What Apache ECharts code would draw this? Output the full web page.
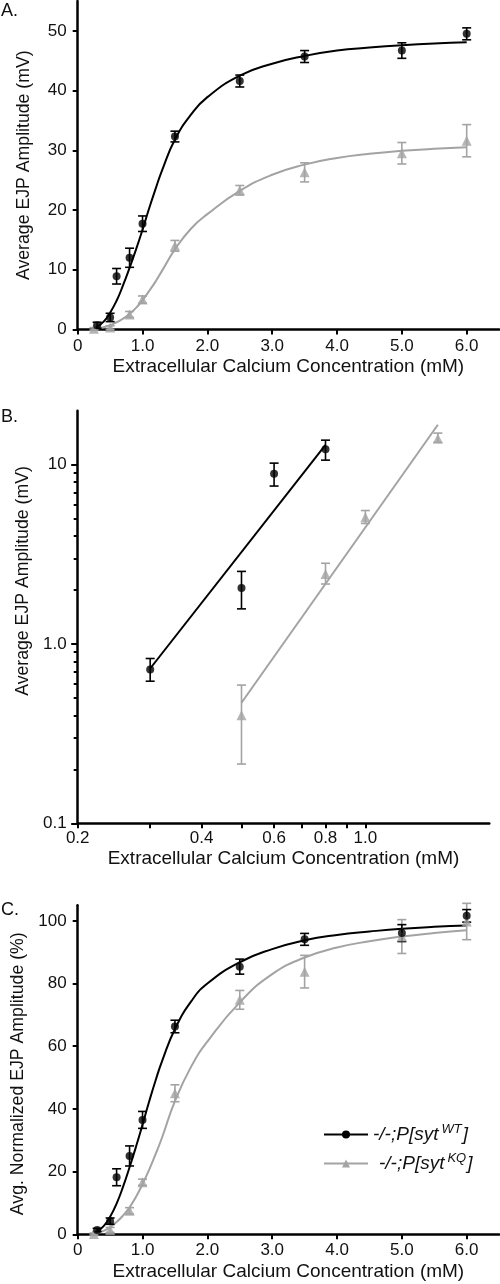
<!DOCTYPE html>
<html><head><meta charset="utf-8">
<script src="https://cdn.jsdelivr.net/npm/echarts@6/dist/echarts.min.js"></script>
<style>html,body{margin:0;padding:0;background:#fff}#c{width:500px;height:1284px}</style>
</head><body><div id="c"></div><script>
// ---------- Panel A: raw EJP amplitudes (mV) ----------
const wtConc = [0.3, 0.5, 0.6, 0.8, 1.0, 1.5, 2.5, 3.5, 5.0, 6.0];
const wtAmpA = [0.7, 2.0, 8.9, 12.0, 17.7, 32.3, 41.6, 45.7, 46.7, 49.5];
const wtErrA = [0.5, 0.7, 1.3, 1.6, 1.3, 0.9, 1.0, 1.0, 1.3, 1.0];
const kqConc = [0.25, 0.5, 0.8, 1.0, 1.5, 2.5, 3.5, 5.0, 6.0];
const kqAmpA = [0.1, 0.3, 2.5, 5.0, 14.0, 23.3, 26.3, 29.5, 31.6];
const kqErrA = [0.2, 0.3, 0.5, 0.6, 0.9, 0.8, 1.6, 1.8, 2.7];
// fitted curves
const wtFitXA = [0.27, 0.4, 0.5, 0.6, 0.7, 0.8, 0.9, 1.0, 1.1, 1.2, 1.3, 1.5, 1.75, 2.0, 2.5, 3.0, 3.5, 4.0, 4.5, 5.0, 5.5, 6.0];
const wtFitA  = [0.2, 1.3, 2.8, 4.8, 7.4, 10.3, 13.4, 16.7, 20.2, 23.5, 26.6, 31.8, 36.0, 38.9, 42.5, 44.5, 45.8, 46.7, 47.2, 47.6, 47.9, 48.1];
const kqFitXA = [0.25, 0.4, 0.5, 0.6, 0.7, 0.8, 0.9, 1.0, 1.1, 1.2, 1.3, 1.5, 1.75, 2.0, 2.5, 3.0, 3.5, 4.0, 4.5, 5.0, 5.5, 6.0];
const kqFitA  = [0.05, 0.35, 0.7, 1.2, 1.8, 2.6, 3.6, 4.9, 6.4, 8.0, 9.8, 13.4, 16.9, 19.3, 23.2, 25.9, 27.6, 28.7, 29.4, 29.9, 30.25, 30.5];

// ---------- Panel B: log-log ----------
const wtConcB  = [0.3, 0.5, 0.6, 0.8];
const wtAmpB   = [0.72, 2.05, 8.9, 12.2];
const wtLoB    = [0.62, 1.57, 7.6, 10.6];
const wtHiB    = [0.83, 2.54, 10.2, 13.7];
const kqConcB  = [0.5, 0.8, 1.0, 1.5];
const kqAmpB   = [0.40, 2.46, 5.09, 14.0];
const kqLoB    = [0.214, 2.16, 4.7, 13.3];
const kqHiB    = [0.59, 2.82, 5.55, 15.0];
const wtLineXB = [0.3, 0.8];
const wtLineYB = [0.73, 12.9];
const kqLineXB = [0.5, 1.5];
const kqLineYB = [0.47, 16.7];

// ---------- Panel C: normalized (%) ----------
const wtNormC = [1.4, 4.2, 18.2, 25.0, 36.5, 66.3, 85.4, 94.1, 96.1, 101.6];
const wtErrC  = [0.5, 1.0, 2.7, 3.2, 2.7, 2.0, 2.4, 1.9, 2.7, 2.0];
const kqNormC = [0.1, 1.4, 7.5, 16.6, 45.0, 74.8, 83.8, 95.0, 99.8];
const kqErrC  = [0.3, 0.8, 1.0, 1.0, 2.7, 3.0, 5.2, 5.4, 5.8];
const wtFitXC = [0.27, 0.4, 0.5, 0.6, 0.7, 0.8, 0.9, 1.0, 1.1, 1.2, 1.3, 1.5, 1.75, 2.0, 2.5, 3.0, 3.5, 4.0, 4.5, 5.0, 5.5, 6.0];
const wtFitC  = [0.4, 2.6, 5.6, 9.8, 15.2, 21.4, 28.0, 35.0, 42.2, 49.0, 55.2, 65.5, 74.3, 80.0, 86.8, 91.0, 93.8, 95.5, 96.6, 97.5, 98.1, 98.5];
const kqFitXC = [0.25, 0.4, 0.5, 0.6, 0.7, 0.8, 0.9, 1.0, 1.1, 1.2, 1.3, 1.5, 1.75, 2.0, 2.5, 3.0, 3.5, 4.0, 4.5, 5.0, 5.5, 6.0];
const kqFitC  = [0.1, 1.1, 2.3, 3.9, 6.0, 8.6, 12.0, 16.0, 20.5, 25.5, 30.8, 42.5, 53.5, 61.5, 74.0, 83.0, 88.3, 91.5, 93.5, 95.0, 96.1, 97.0];

// ---------- ticks / labels ----------
const xTicksLin = [0, 1, 2, 3, 4, 5, 6];
const yTicksA = [0, 10, 20, 30, 40, 50];
const yTicksC = [0, 20, 40, 60, 80, 100];
const xTicksB = [0.2, 0.3, 0.4, 0.5, 0.6, 0.7, 0.8, 0.9, 1.0];
const xLabelsB = [0.2, 0.4, 0.6, 0.8, 1.0];
const yTicksB = [0.1, 0.2, 0.3, 0.4, 0.5, 0.6, 0.7, 0.8, 0.9, 1, 2, 3, 4, 5, 6, 7, 8, 9, 10];
const yLabelsB = [0.1, 1, 10];
const xName = 'Extracellular Calcium Concentration (mM)';
const legendWT = 'WT';
const legendKQ = 'KQ';

const BLACK = '#000000';
const GREY = '#a3a3a3';
const FONT = 'Liberation Sans, Arial, sans-serif';
const tick = { fontFamily: FONT, fontSize: 17, color: '#111' };
const xnm = { fontFamily: FONT, fontSize: 19, color: '#111' };
const ynm = { fontFamily: FONT, fontSize: 17.7, color: '#111' };
const ttl = { fontFamily: FONT, fontSize: 18, color: '#111', fontWeight: 'normal' };
const zip = (xs, ys) => xs.map((x, i) => [x, ys[i]]);

function axisBase(extra) {
  return Object.assign({
    axisLine: { show: true, onZero: false, lineStyle: { color: BLACK, width: 2.5 } },
    splitLine: { show: false }
  }, extra);
}
function errSeries(xi, xs, lo, hi, color) {
  return {
    type: 'custom', xAxisIndex: xi, yAxisIndex: xi, silent: true, z: 3,
    data: xs.map((x, i) => [x, lo[i], hi[i]]),
    encode: { x: 0, y: [1, 2] },
    renderItem: (params, api) => {
      const x = api.value(0);
      const a = api.coord([x, api.value(1)]);
      const b = api.coord([x, api.value(2)]);
      const h = 4.5, st = { stroke: color, lineWidth: 1.6 };
      return { type: 'group', children: [
        { type: 'line', shape: { x1: a[0], y1: a[1], x2: b[0], y2: b[1] }, style: st },
        { type: 'line', shape: { x1: a[0] - h, y1: a[1], x2: a[0] + h, y2: a[1] }, style: st },
        { type: 'line', shape: { x1: b[0] - h, y1: b[1], x2: b[0] + h, y2: b[1] }, style: st }
      ] };
    }
  };
}
function pts(xi, xs, ys, color, sym, size) {
  return { type: 'scatter', xAxisIndex: xi, yAxisIndex: xi, data: zip(xs, ys), symbol: sym,
    symbolSize: size, itemStyle: { color: color }, z: 4, silent: true };
}
function fit(xi, xs, ys, color, name, sym, smooth) {
  return { type: 'line', name: name, xAxisIndex: xi, yAxisIndex: xi, data: zip(xs, ys),
    smooth: smooth, showSymbol: false, symbol: sym,
    lineStyle: { color: color, width: 2 }, itemStyle: { color: color }, z: 2, silent: true };
}
const fmtLin = v => (v === 0 ? '0' : v.toFixed(1));

const linX = (gi) => axisBase({
  type: 'value', gridIndex: gi, min: 0, max: 6.5,
  axisTick: { show: true, length: 5, customValues: xTicksLin, lineStyle: { color: BLACK, width: 2 } },
  axisLabel: Object.assign({ margin: 8, customValues: xTicksLin, formatter: fmtLin }, tick),
  name: xName, nameLocation: 'middle', nameGap: 28, nameTextStyle: xnm
});

const option = {
  animation: false,
  backgroundColor: '#fff',
  title: [
    { text: 'A.', left: 1, top: 2, padding: 0, textStyle: ttl },
    { text: 'B.', left: 1, top: 408, padding: 0, textStyle: ttl },
    { text: 'C.', left: 1, top: 901, padding: 0, textStyle: ttl }
  ],
  grid: [
    { left: 77.7, top: 1, width: 421.4, height: 328.4 },
    { left: 77.7, top: 410.7, width: 411.6, height: 412.6 },
    { left: 77.7, top: 905.2, width: 421.4, height: 329.1 },
    { left: 77.7, top: 410.7, width: 411.6, height: 412.6 }
  ],
  xAxis: [
    linX(0),
    axisBase({
      type: 'log', logBase: 10, gridIndex: 1, min: 0.2, max: 2.0,
      axisTick: { show: true, length: 5, customValues: xTicksB, lineStyle: { color: BLACK, width: 2 } },
      axisLabel: Object.assign({ margin: 7, customValues: xLabelsB, formatter: v => Number(v).toFixed(1) }, tick),
      name: xName, nameLocation: 'middle', nameGap: 26, nameTextStyle: xnm
    }),
    linX(2),
    { type: 'log', logBase: 10, gridIndex: 3, min: 0.2, max: 2.0, show: false }
  ],
  yAxis: [
    axisBase({
      type: 'value', gridIndex: 0, min: 0, max: 55,
      axisTick: { show: true, length: 5, customValues: yTicksA, lineStyle: { color: BLACK, width: 2 } },
      axisLabel: Object.assign({ margin: 11, customValues: yTicksA }, tick),
      name: 'Average EJP Amplitude (mV)', nameLocation: 'middle', nameGap: 45, nameTextStyle: ynm
    }),
    axisBase({
      type: 'log', logBase: 10, gridIndex: 1, min: 0.1, max: 20,
      axisTick: { show: true, length: 4, customValues: yTicksB, lineStyle: { color: BLACK, width: 2 } },
      axisLabel: Object.assign({ margin: 11, customValues: yLabelsB,
        formatter: v => (Number(v) >= 10 ? String(Math.round(v)) : Number(v).toFixed(1)) }, tick),
      name: 'Average EJP Amplitude (mV)', nameLocation: 'middle', nameGap: 45,
      nameTextStyle: Object.assign({ padding: [0, 0, 0, 72] }, ynm)
    }),
    axisBase({
      type: 'value', gridIndex: 2, min: 0, max: 105,
      axisTick: { show: true, length: 5, customValues: yTicksC, lineStyle: { color: BLACK, width: 2 } },
      axisLabel: Object.assign({ margin: 11, customValues: yTicksC }, tick),
      name: 'Avg. Normalized EJP Amplitude (%)', nameLocation: 'middle', nameGap: 45,
      nameTextStyle: Object.assign({ padding: [0, 8, 0, 0] }, ynm)
    }),
    {
      type: 'log', logBase: 10, gridIndex: 3, min: 0.1, max: 20,
      axisLine: { show: false }, splitLine: { show: false }, axisLabel: { show: false },
      axisTick: { show: true, length: 6.5, customValues: yLabelsB, lineStyle: { color: BLACK, width: 2 } }
    }
  ],
  legend: {
    orient: 'vertical', left: 318, top: 1118, itemWidth: 44, itemHeight: 10, itemGap: 8,
    data: [legendWT, legendKQ],
    selectedMode: false,
    formatter: n => n === legendWT ? '{i|-/-;P[syt}{s|WT}{i|]}' : '{sp|}{i|-/-;P[syt}{s|KQ}{i|]}',
    textStyle: {
      fontFamily: FONT, fontSize: 19, fontStyle: 'italic', color: '#111',
      rich: {
        i: { fontFamily: FONT, fontSize: 19, fontStyle: 'italic', color: '#111', height: 22 },
        s: { fontFamily: FONT, fontSize: 13, fontStyle: 'italic', color: '#111', padding: [0, 1, 10, 3] },
        sp: { width: 6 }
      }
    }
  },
  series: [
    // A
    fit(0, kqFitXA, kqFitA, GREY, 'kqA', 'triangle', 0.5),
    fit(0, wtFitXA, wtFitA, BLACK, 'wtA', 'circle', 0.5),
    errSeries(0, kqConc, kqAmpA.map((v, i) => v - kqErrA[i]), kqAmpA.map((v, i) => v + kqErrA[i]), GREY),
    pts(0, kqConc, kqAmpA, GREY, 'triangle', 10),
    errSeries(0, wtConc, wtAmpA.map((v, i) => v - wtErrA[i]), wtAmpA.map((v, i) => v + wtErrA[i]), BLACK),
    pts(0, wtConc, wtAmpA, BLACK, 'circle', 8),
    // B
    fit(1, kqLineXB, kqLineYB, GREY, 'kqB', 'triangle', false),
    fit(1, wtLineXB, wtLineYB, BLACK, 'wtB', 'circle', false),
    errSeries(1, kqConcB, kqLoB, kqHiB, GREY),
    pts(1, kqConcB, kqAmpB, GREY, 'triangle', 10),
    errSeries(1, wtConcB, wtLoB, wtHiB, BLACK),
    pts(1, wtConcB, wtAmpB, BLACK, 'circle', 8),
    // C
    fit(2, kqFitXC, kqFitC, GREY, legendKQ, 'triangle', 0.5),
    fit(2, wtFitXC, wtFitC, BLACK, legendWT, 'circle', 0.5),
    errSeries(2, kqConc, kqNormC.map((v, i) => v - kqErrC[i]), kqNormC.map((v, i) => v + kqErrC[i]), GREY),
    pts(2, kqConc, kqNormC, GREY, 'triangle', 10),
    errSeries(2, wtConc, wtNormC.map((v, i) => v - wtErrC[i]), wtNormC.map((v, i) => v + wtErrC[i]), BLACK),
    pts(2, wtConc, wtNormC, BLACK, 'circle', 8),
    // carrier for the major-tick overlay axis of panel B
    { type: 'line', xAxisIndex: 3, yAxisIndex: 3, data: [], silent: true }
  ]
};
const chart = echarts.init(document.getElementById('c'), null, { renderer: 'canvas' });
chart.setOption(option);
</script></body></html>
